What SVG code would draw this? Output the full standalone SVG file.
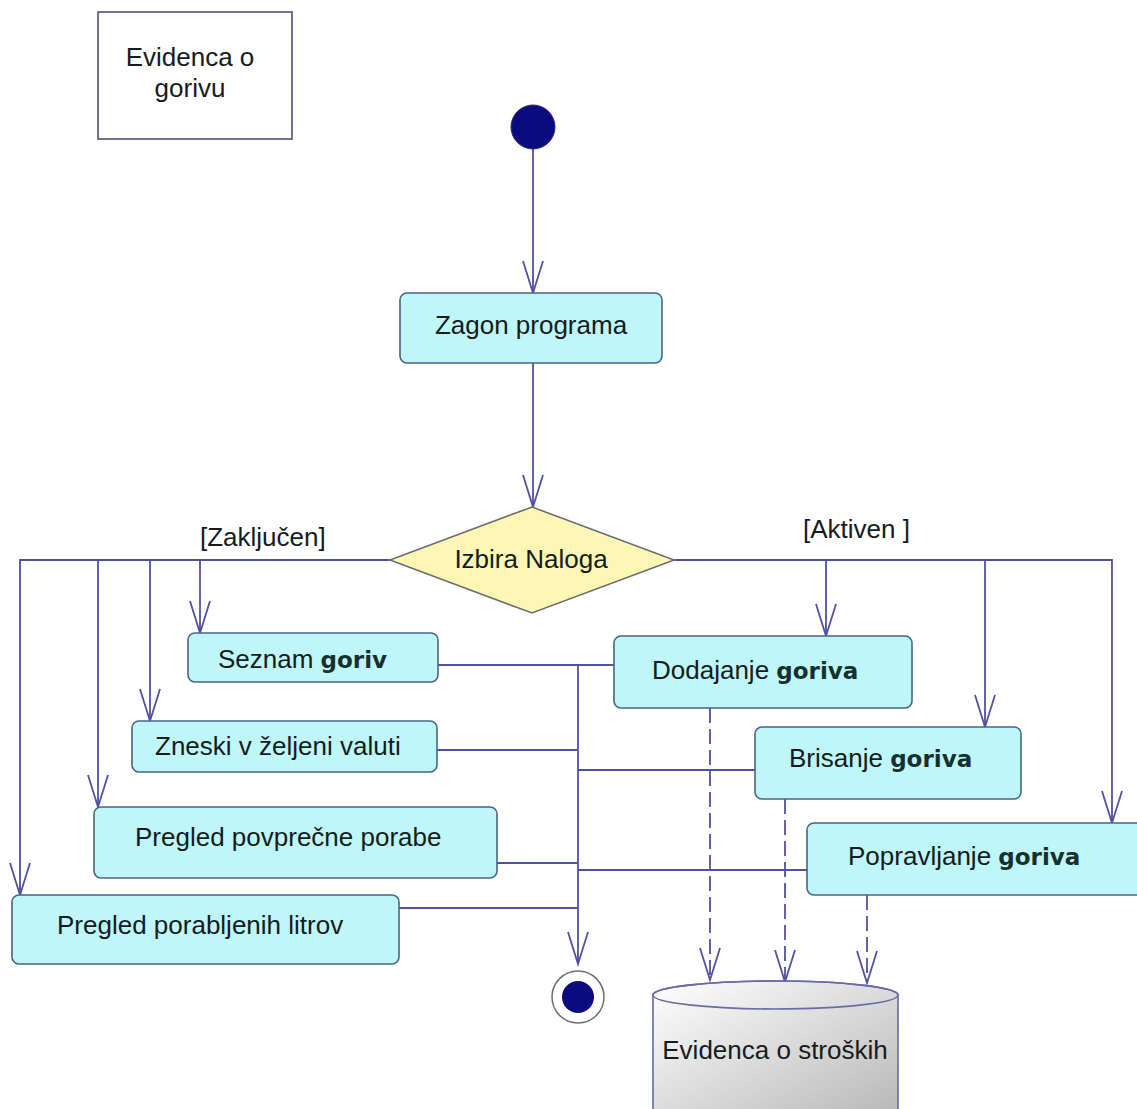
<svg xmlns="http://www.w3.org/2000/svg" width="1137" height="1109" viewBox="0 0 1137 1109">
  <style>
    .txt { font-family: "Liberation Sans", Arial, sans-serif; font-size: 26px; fill: #141c1e; }
    .b { font-family: "DejaVu Sans", Verdana, sans-serif; font-weight: bold; font-size: 23px; fill: #16302f; }
    .act { fill: #bff6f8; stroke: #4a6583; stroke-width: 1.6; }
    .flow { fill: none; stroke: #5151a3; stroke-width: 1.8; }
    .arr { marker-end: url(#open); }
    .dep { fill: none; stroke: #5151a3; stroke-width: 1.8; stroke-dasharray: 15 6; marker-end: url(#open); }
  </style>
  <defs>
    <marker id="open" markerUnits="userSpaceOnUse" viewBox="-34 -13 36 26" refX="0" refY="0" markerWidth="36" markerHeight="26" orient="auto" overflow="visible">
      <path d="M -32 -10 L 0 0 L -32 10" fill="none" stroke="#5151a3" stroke-width="1.8"/>
    </marker>
    <linearGradient id="db" x1="0" y1="0" x2="1" y2="1">
      <stop offset="0" stop-color="#ffffff"/>
      <stop offset="1" stop-color="#b8b8b8"/>
    </linearGradient>
  </defs>

  <rect width="1137" height="1109" fill="#ffffff"/>

  <!-- note -->
  <g id="note">
    <rect x="98" y="12" width="194" height="127" fill="#ffffff" stroke="#62628e" stroke-width="1.8"/>
    <text class="txt" x="190" y="66" text-anchor="middle">Evidenca o</text>
    <text class="txt" x="190" y="97" text-anchor="middle">gorivu</text>
  </g>

  <!-- connectors -->
  <g id="connectors">
    <line class="flow arr" x1="533" y1="148" x2="533" y2="293"/>
    <line class="flow arr" x1="533" y1="363" x2="533" y2="507"/>

    <!-- [Zaključen] branch -->
    <polyline class="flow arr" points="390,560 20,560 20,895"/>
    <line class="flow arr" x1="200" y1="560" x2="200" y2="633"/>
    <line class="flow arr" x1="150" y1="560" x2="150" y2="721"/>
    <line class="flow arr" x1="98" y1="560" x2="98" y2="807"/>

    <!-- [Aktiven] branch -->
    <polyline class="flow arr" points="674,560 1112,560 1112,823"/>
    <line class="flow arr" x1="826" y1="560" x2="826" y2="636"/>
    <line class="flow arr" x1="985" y1="560" x2="985" y2="727"/>

    <!-- joins into the final state -->
    <line class="flow" x1="438" y1="665" x2="614" y2="665"/>
    <line class="flow" x1="437" y1="750" x2="578" y2="750"/>
    <line class="flow" x1="578" y1="770" x2="755" y2="770"/>
    <line class="flow" x1="497" y1="863" x2="578" y2="863"/>
    <line class="flow" x1="578" y1="870" x2="807" y2="870"/>
    <line class="flow" x1="399" y1="908" x2="578" y2="908"/>
    <line class="flow arr" x1="578" y1="665" x2="578" y2="964"/>

    <!-- data store dependencies -->
    <line class="dep" x1="710" y1="708" x2="710" y2="980"/>
    <line class="dep" x1="785" y1="799" x2="785" y2="982"/>
    <line class="dep" x1="867" y1="895" x2="867" y2="983"/>

    <text class="txt" x="200" y="546">[Zaključen]</text>
    <text class="txt" x="803" y="538">[Aktiven ]</text>
  </g>

  <g id="start">
    <circle cx="533" cy="127" r="22" fill="#0b0b80" stroke="#2a2a70" stroke-width="1"/>
  </g>

  <g id="zagon">
    <rect class="act" x="400" y="293" width="262" height="70" rx="7"/>
    <text class="txt" x="531" y="334" text-anchor="middle">Zagon programa</text>
  </g>

  <g id="izbira">
    <polygon points="390,560 532,507 674,560 532,613" fill="#fcf7b4" stroke="#6e6e6e" stroke-width="1.6"/>
    <text class="txt" x="531" y="568" text-anchor="middle">Izbira Naloga</text>
  </g>

  <g id="seznam">
    <rect class="act" x="188" y="633" width="250" height="49" rx="7"/>
    <text class="txt" x="218" y="668">Seznam <tspan class="b">goriv</tspan></text>
  </g>

  <g id="zneski">
    <rect class="act" x="132" y="721" width="305" height="51" rx="7"/>
    <text class="txt" x="155" y="755">Zneski v željeni valuti</text>
  </g>

  <g id="povprecna">
    <rect class="act" x="94" y="807" width="403" height="71" rx="7"/>
    <text class="txt" x="135" y="846">Pregled povprečne porabe</text>
  </g>

  <g id="litri">
    <rect class="act" x="12" y="895" width="387" height="69" rx="7"/>
    <text class="txt" x="57" y="934">Pregled porabljenih litrov</text>
  </g>

  <g id="dodajanje">
    <rect class="act" x="614" y="636" width="298" height="72" rx="7"/>
    <text class="txt" x="652" y="679">Dodajanje <tspan class="b">goriva</tspan></text>
  </g>

  <g id="brisanje">
    <rect class="act" x="755" y="727" width="266" height="72" rx="7"/>
    <text class="txt" x="789" y="767">Brisanje <tspan class="b">goriva</tspan></text>
  </g>

  <g id="popravljanje">
    <rect class="act" x="807" y="823" width="340" height="72" rx="7"/>
    <text class="txt" x="848" y="865">Popravljanje <tspan class="b">goriva</tspan></text>
  </g>

  <g id="konec">
    <circle cx="578" cy="997" r="26" fill="#ffffff" stroke="#707070" stroke-width="1.5"/>
    <circle cx="578" cy="997" r="16" fill="#0b0b80"/>
  </g>

  <g id="evidenca-stroskov">
    <path d="M 653 995 L 653 1115 L 898 1115 L 898 995 A 122.5 14 0 0 0 653 995 Z" fill="url(#db)" stroke="#6a6aa6" stroke-width="1.6"/>
    <ellipse cx="775.5" cy="995" rx="122.5" ry="14" fill="none" stroke="#6a6aa6" stroke-width="1.6"/>
    <text class="txt" x="775" y="1059" text-anchor="middle">Evidenca o stroških</text>
  </g>
</svg>
